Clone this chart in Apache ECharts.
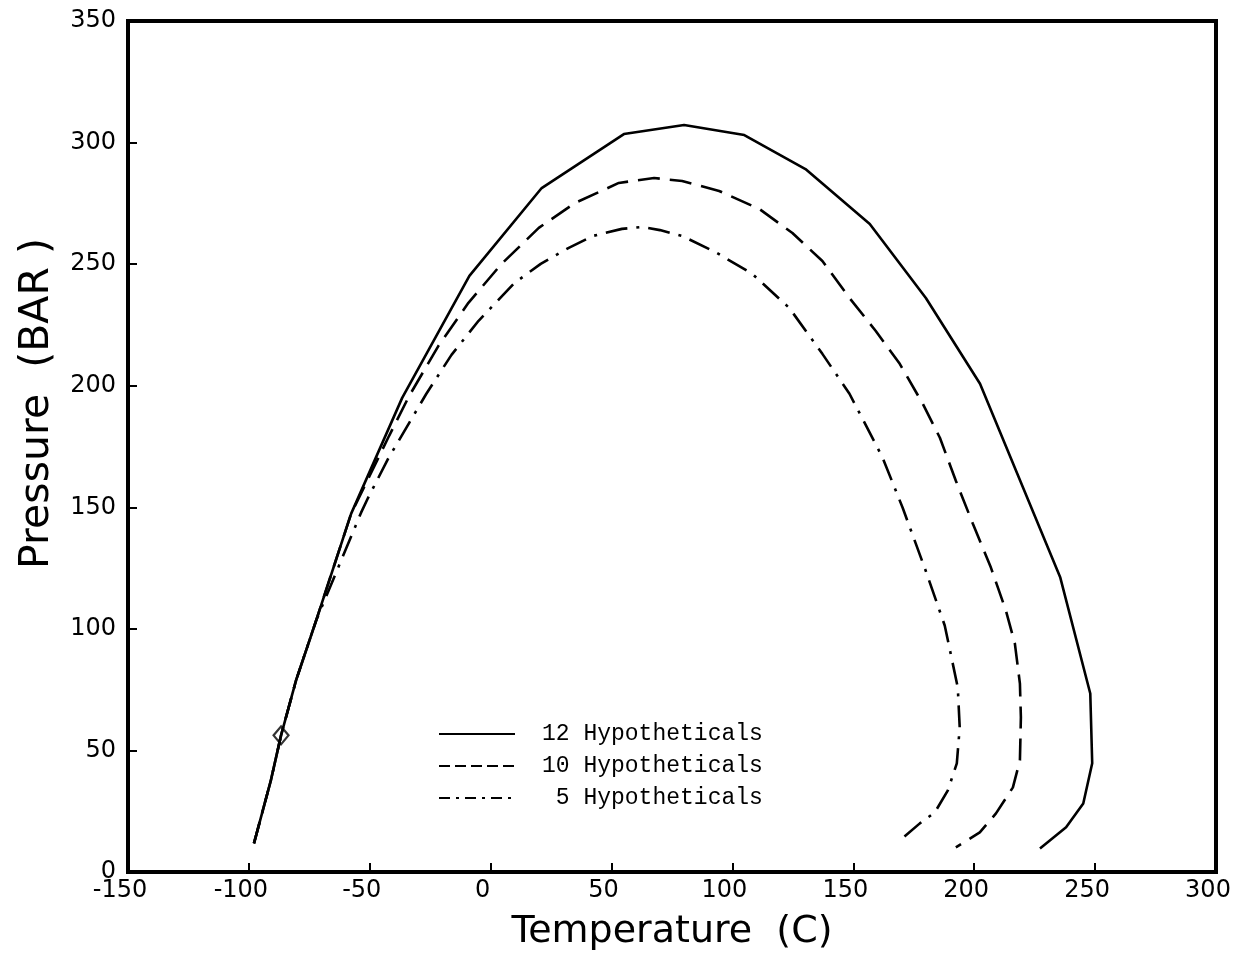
<!DOCTYPE html>
<html>
<head>
<meta charset="utf-8">
<script src="https://cdn.jsdelivr.net/npm/echarts@6/dist/echarts.min.js"></script>
<style>html,body{margin:0;padding:0;background:#fff;}#chart{width:1233px;height:956px;}</style>
</head>
<body>
<div id="chart"></div>
<script>
// Tick labels / axis ranges
var xTicks = [-150, -100, -50, 0, 50, 100, 150, 200, 250, 300];
var yTicks = [0, 50, 100, 150, 200, 250, 300, 350];

var seriesNames = ['12 Hypotheticals', '10 Hypotheticals', '5 Hypotheticals'];

// 12 Hypotheticals (solid)
var temp12 = [-97.9,-90.9,-86.7,-80.5,-72.2,-57.7,-36.6,-8.8,21.1,55.1,80.0,104.9,130.2,156.8,180.0,202.4,235.6,248.0,248.8,245.1,238.0,227.2];
var pres12 = [11.8,37.7,56.2,78.8,103.4,147.4,195.0,245.2,281.3,303.5,307.2,303.1,289.1,266.5,236.1,200.8,121.1,73.4,44.7,28.2,18.4,9.7];

// 10 Hypotheticals (dashed)
var temp10 = [-97.9,-90.9,-86.7,-80.5,-72.2,-57.7,-42.0,-33.7,-21.6,-9.2,4.5,19.9,34.8,53.0,67.6,79.2,94.5,111.1,124.8,137.2,148.4,159.2,169.2,178.7,185.8,192.4,199.4,206.9,213.1,216.8,218.9,219.3,218.9,216.0,209.0,202.3,192.4];
var pres10 = [11.8,37.7,56.2,78.8,103.4,147.4,179.4,195.8,216.4,234.1,250.1,264.9,275.1,283.4,285.4,284.2,280.1,272.7,262.8,251.3,236.1,222.6,209.0,192.6,178.6,160.9,143.3,125.2,107.5,94.0,77.5,63.6,45.9,34.8,24.1,16.3,10.1];

// 5 Hypotheticals (dash-dot)
var temp5 = [-97.9,-90.9,-86.7,-80.5,-72.2,-53.6,-50.7,-42.4,-32.0,-26.6,-16.2,-5.0,9.9,20.7,32.3,42.3,54.3,62.6,70.0,79.2,92.9,108.2,123.5,137.2,148.4,153.8,162.1,170.4,179.9,187.8,193.2,194.0,192.8,189.1,183.7,177.5,168.3];
var pres5 = [11.8,37.7,56.2,78.8,103.4,147.8,153.9,170.0,187.6,196.7,212.7,226.7,242.3,250.1,256.7,261.6,264.5,265.3,264.0,261.6,255.0,246.0,232.0,213.1,196.7,186.4,170.4,149.8,124.0,101.4,75.9,59.4,44.7,33.6,24.5,20.0,12.2];

// marked point
var markTemp = [-86.7];
var markPres = [56.2];

function pairs(xs, ys) { return xs.map(function (x, i) { return [x, ys[i]]; }); }

var chart = echarts.init(document.getElementById('chart'), null, { renderer: 'canvas' });

var axisFont = 'DejaVu Sans';
var option = {
  backgroundColor: '#ffffff',
  animation: false,
  color: ['#000', '#000', '#000', '#000'],
  grid: { left: 128, right: 17, top: 21, bottom: 84, show: true, borderColor: '#000', borderWidth: 4, backgroundColor: 'transparent', outerBoundsMode: 'none', containLabel: false },
  xAxis: {
    type: 'value', min: xTicks[0], max: xTicks[xTicks.length - 1], interval: 50,
    name: 'Temperature  (C)', nameLocation: 'middle', nameGap: 41,
    nameTextStyle: { fontFamily: axisFont, fontSize: 38, color: '#000' },
    axisLine: { show: true, onZero: false, lineStyle: { color: '#000', width: 4 } },
    axisTick: { show: true, inside: true, length: 9, lineStyle: { color: '#000', width: 2 } },
    axisLabel: { fontFamily: axisFont, fontSize: 24, color: '#000', margin: 7, padding: [0, 16, 0, 0] },
    splitLine: { show: false }
  },
  yAxis: {
    type: 'value', min: yTicks[0], max: yTicks[yTicks.length - 1], interval: 50,
    name: 'Pressure  (BAR )', nameLocation: 'middle', nameGap: 70,
    nameTextStyle: { fontFamily: axisFont, fontSize: 41, color: '#000', padding: [0, 0, 0, 86] },
    axisLine: { show: true, onZero: false, lineStyle: { color: '#000', width: 4 } },
    axisTick: { show: true, inside: true, length: 9, lineStyle: { color: '#000', width: 2 } },
    axisLabel: { fontFamily: axisFont, fontSize: 24, color: '#000', margin: 12 },
    splitLine: { show: false }
  },
  legend: {
    data: [
      { name: seriesNames[0], lineStyle: { type: 'solid' } },
      { name: seriesNames[1], lineStyle: { type: [11, 5] } },
      { name: seriesNames[2], lineStyle: { type: [11, 6, 3, 6] } }
    ],
    orient: 'vertical', left: 433, top: 717,
    itemWidth: 76, itemHeight: 14, itemGap: 8,
    itemStyle: { opacity: 0 },
    formatter: function (n) { return n.length < 16 ? ' ' + n : n; },
    textStyle: { fontFamily: 'Liberation Mono', fontSize: 23, color: '#000', lineHeight: 24, padding: [0, 0, 0, 22] },
    lineStyle: { width: 2 }
  },
  series: [
    {
      name: seriesNames[2], type: 'line', data: pairs(temp5, pres5), showSymbol: false, symbol: 'none',
      itemStyle: { color: '#000' },
      lineStyle: { color: '#000', width: 2.6, type: [22, 9, 3, 9] }, z: 2
    },
    {
      name: seriesNames[1], type: 'line', data: pairs(temp10, pres10), showSymbol: false, symbol: 'none',
      itemStyle: { color: '#000' },
      lineStyle: { color: '#000', width: 2.6, type: [22, 10] }, z: 3
    },
    {
      name: seriesNames[0], type: 'line', data: pairs(temp12, pres12), showSymbol: false, symbol: 'none',
      itemStyle: { color: '#000' },
      lineStyle: { color: '#000', width: 2.6, type: 'solid' }, z: 4
    },
    {
      name: 'point', type: 'scatter', data: pairs(markTemp, markPres), symbol: 'diamond', symbolSize: [15, 18],
      itemStyle: { color: 'rgba(0,0,0,0)', borderColor: '#000', borderWidth: 2.2 }, z: 5
    }
  ]
};
chart.setOption(option);
</script>
</body>
</html>
